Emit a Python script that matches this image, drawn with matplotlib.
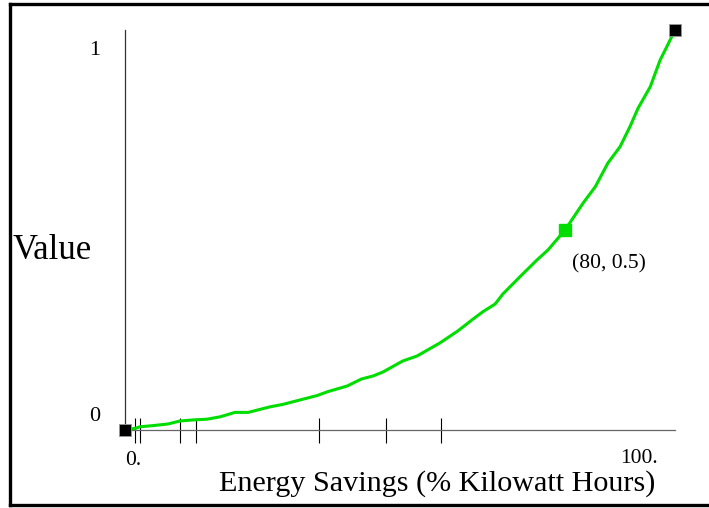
import matplotlib
matplotlib.use("Agg")
import matplotlib.pyplot as plt
from matplotlib.lines import Line2D

plt.rcParams["font.family"] = ["Liberation Serif", "DejaVu Serif"]

# curve
savings = [0, 1.8, 2.7, 5.1, 7.8, 10.0, 12.2, 14.9, 17.3, 20.0, 22.4, 26.4,
           28.7, 31.8, 34.9, 36.9, 40.4, 43.0, 45.1, 46.9, 50.5, 53.1, 57.3,
           60.5, 63.3, 65.1, 67.3, 68.7, 71.8, 74.9, 76.9, 80.0, 83.3, 85.5,
           87.8, 90.0, 91.8, 93.3, 95.5, 97.3, 98.5, 100.0]
value = [0, 0.004, 0.008, 0.011, 0.015, 0.0225, 0.025, 0.027, 0.033, 0.044,
         0.044, 0.058, 0.064, 0.075, 0.086, 0.096, 0.11, 0.1275, 0.135, 0.145,
         0.1725, 0.185, 0.218, 0.2475, 0.2775, 0.296, 0.315, 0.34, 0.383,
         0.425, 0.45, 0.5, 0.5675, 0.608, 0.6675, 0.708, 0.758, 0.805, 0.858,
         0.925, 0.958, 1.0]

# rug marks along the x axis
rug = [1.8, 2.7, 10.0, 12.9, 35.3, 47.5, 57.5]

mid_point = (80, 0.5)
end_points = [(0, 0), (100, 1)]

W, H = 709, 508


def fx(px):
    return px / W


def fy(py):
    return 1 - py / H


fig = plt.figure(figsize=(W / 100, H / 100), dpi=100)
ax = fig.add_axes([fx(125), fy(430), 550 / W, 400 / H])
ax.set_xlim(0, 100)
ax.set_ylim(0, 1)

ax.plot(savings, value, color="#00dd00", lw=2.2, clip_on=False, zorder=3)
ax.plot(*mid_point, marker="s", ms=8.5, color="#00dd00", mec="#00dd00",
        clip_on=False, zorder=4)
for x, y in end_points:
    ax.plot(x, y, marker="s", ms=8.5, color="black", mec="#999999", mew=0.6,
            clip_on=False, zorder=4)

for side in ("top", "right"):
    ax.spines[side].set_visible(False)
ax.spines["bottom"].set_color("#666666")
ax.spines["left"].set_color("#333333")
ax.spines["bottom"].set_linewidth(0.9)
ax.spines["left"].set_linewidth(0.9)

ax.set_xticks(rug, labels=[""] * len(rug))
ax.tick_params(axis="x", direction="inout", length=18, width=0.8, color="black")
ax.set_yticks([])

# tick labels and axis titles, placed as in the reference
fig.text(fx(125), fy(465), "0.", fontsize=15.5, ha="left", va="baseline")
fig.text(fx(658), fy(463), "100.", fontsize=15.5, ha="right", va="baseline")
fig.text(fx(100), fy(55), "1", fontsize=16, ha="right", va="baseline")
fig.text(fx(100), fy(421), "0", fontsize=16, ha="right", va="baseline")
fig.text(fx(13), fy(259), "Value", fontsize=25, ha="left", va="baseline")
fig.text(fx(655), fy(491), "Energy Savings (% Kilowatt Hours)", fontsize=21.7,
         ha="right", va="baseline")

ax.annotate(f"({mid_point[0]}, {mid_point[1]})", xy=mid_point,
            xytext=(5, -28), textcoords="offset points", fontsize=15.5,
            ha="left", va="baseline")

# frame around the figure (right edge falls outside the picture)
border = dict(color="black", lw=2.4, transform=fig.transFigure)
fig.add_artist(Line2D([fx(10), fx(10)], [fy(4), fy(505)], **border))
fig.add_artist(Line2D([fx(10), 1.0], [fy(4), fy(4)], **border))
fig.add_artist(Line2D([fx(10), 1.0], [fy(505), fy(505)], **border))

fig.savefig("out.png", dpi=100)
